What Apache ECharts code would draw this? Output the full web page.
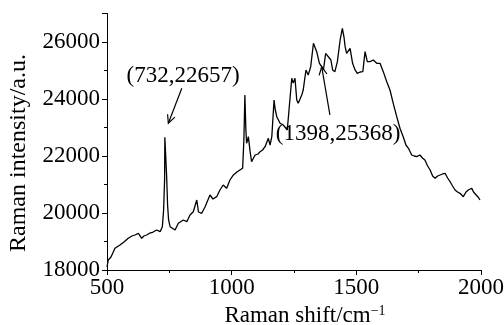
<!DOCTYPE html>
<html>
<head>
<meta charset="utf-8">
<script src="https://cdn.jsdelivr.net/npm/echarts@6/dist/echarts.min.js"></script>
<style>html,body{margin:0;padding:0;background:#fff}#c{width:504px;height:325px}</style>
</head>
<body>
<div id="c"></div>
<script>
// Raman shift (cm^-1)
var shifts = [500,505,516,532,552,568,585,600,612,626,639,648,659,672,685,699,713,722,727,731,732,739,743,747,753,760,773,786,793,806,820,833,846,860,867,880,893,913,925,940,953,966,980,993,1007,1021,1033,1044,1049,1053,1057,1060,1067,1074,1080,1094,1106,1114,1124,1134,1147,1154,1161,1170,1175,1181,1194,1207,1223,1230,1241,1247,1254,1261,1267,1281,1287,1298,1307,1317,1328,1334,1341,1352,1361,1368,1377,1398,1405,1414,1424,1435,1444,1451,1455,1461,1475,1485,1495,1504,1515,1526,1535,1544,1555,1568,1582,1595,1608,1622,1635,1648,1662,1675,1688,1699,1709,1722,1732,1742,1755,1765,1775,1786,1796,1806,1816,1826,1836,1846,1856,1866,1876,1886,1896,1906,1916,1929,1940,1949,1963,1970,1976,1988,1996];
// Raman intensity (a.u.)
var intensities = [18105,18351,18456,18761,18877,18983,19112,19193,19228,19288,19112,19193,19228,19298,19333,19404,19344,19519,20105,21158,22657,21334,20281,19755,19519,19463,19404,19639,19579,19755,19695,19930,20046,20456,20035,19990,20211,20632,20491,20573,20807,20983,20866,21158,21334,21439,21509,21568,22562,24141,22913,22446,22678,22151,21800,22035,22070,22151,22211,22327,22621,22386,22678,23965,23614,23379,23148,23088,22913,23614,24726,24562,24726,23965,23849,24141,24316,25018,24843,25134,25955,25955,25660,25253,25134,25018,25603,25368,25018,24960,25311,26071,26481,26141,25836,25603,25779,25253,25018,24902,24948,24960,25660,25311,25311,25369,25253,25253,24960,24607,24316,23849,23379,22972,22677,22386,22270,22035,22000,21976,22035,21930,21860,21649,21509,21298,21218,21298,21334,21369,21393,21228,21098,20948,20807,20737,20691,20572,20737,20807,20867,20737,20691,20562,20456];
// Axis ticks
var xTicks = [500, 1000, 1500, 2000];
var yTicks = [18000, 20000, 22000, 24000, 26000];
// Annotations: label text, label centre, arrow start, arrow tip
var annoTexts = ['(732,22657)', '(1398,25368)'];
var annoCentres = [[805, 24807], [1427, 22772]];
var arrowStarts = [[800, 24376], [1394, 23440]];
var arrowTips = [[746, 23148], [1361, 25134]];

var font = '"Liberation Serif", "Times New Roman", serif';
var data = shifts.map(function (s, i) { return [s, intensities[i]]; });
var plain = function (v) { return String(v); };

var chart = echarts.init(document.getElementById('c'), null, {renderer: 'canvas'});
chart.setOption({
  animation: false,
  backgroundColor: '#fff',
  grid: {left: 107, right: 23, top: 13.5, bottom: 55, containLabel: false, outerBoundsMode: 'none'},
  xAxis: {
    type: 'value', min: xTicks[0], max: xTicks[xTicks.length - 1], interval: 500,
    name: 'Raman shift/cm{sup|\u22121}', nameLocation: 'middle', nameGap: 30,
    nameTextStyle: {fontFamily: font, fontSize: 23, color: '#000', padding: [0, 0, 0, 22],
      rich: {sup: {fontFamily: font, fontSize: 14, color: '#000', padding: [0, 0, 10, 0]}}},
    axisLine: {lineStyle: {color: '#000', width: 1}},
    axisTick: {inside: false, length: 5, lineStyle: {color: '#000'}},
    minorTick: {show: true, splitNumber: 2, length: 3, lineStyle: {color: '#000'}},
    axisLabel: {fontFamily: font, fontSize: 23, color: '#000', margin: 6, formatter: plain},
    splitLine: {show: false}
  },
  yAxis: {
    type: 'value', min: yTicks[0], max: 27000, interval: 2000,
    axisLine: {show: true, lineStyle: {color: '#000', width: 1}},
    axisTick: {show: true, inside: false, length: 5, lineStyle: {color: '#000'}},
    minorTick: {show: true, splitNumber: 2, length: 3, lineStyle: {color: '#000'}},
    axisLabel: {fontFamily: font, fontSize: 23, color: '#000', margin: 7, showMaxLabel: false, formatter: plain},
    splitLine: {show: false}
  },
  series: [{
    type: 'line', data: data, showSymbol: false, symbol: 'none',
    lineStyle: {color: '#000', width: 1.3},
    markPoint: {
      silent: true, symbol: 'circle', symbolSize: 1,
      itemStyle: {color: 'rgba(0,0,0,0)'},
      label: {show: true, position: 'inside', fontFamily: font, fontSize: 23, color: '#000',
        formatter: function (p) { return p.name; }},
      data: annoTexts.map(function (t, i) { return {name: t, coord: annoCentres[i]}; })
    }
  }]
});

// Y-axis title and the two annotation arrows (shaft + open head),
// placed through the chart's own coordinate conversion
var graphics = [{
  type: 'text', silent: true, x: 19, y: 153, rotation: Math.PI / 2,
  style: {text: 'Raman intensity/a.u.', fontFamily: font, fontSize: 24, fill: '#000',
    align: 'center', verticalAlign: 'middle'}
}];
arrowStarts.forEach(function (s, i) {
  var p0 = chart.convertToPixel({gridIndex: 0}, s);
  var p1 = chart.convertToPixel({gridIndex: 0}, arrowTips[i]);
  var ang = Math.atan2(p0[1] - p1[1], p0[0] - p1[0]);
  var L = 9, spread = 0.45;
  var h1 = [p1[0] + L * Math.cos(ang + spread), p1[1] + L * Math.sin(ang + spread)];
  var h2 = [p1[0] + L * Math.cos(ang - spread), p1[1] + L * Math.sin(ang - spread)];
  graphics.push({type: 'polyline', silent: true, shape: {points: [p0, p1]},
    style: {stroke: '#000', lineWidth: 1.2, fill: null}});
  graphics.push({type: 'polyline', silent: true, shape: {points: [h1, p1, h2]},
    style: {stroke: '#000', lineWidth: 1.2, fill: null}});
});
chart.setOption({graphic: graphics});
</script>
</body>
</html>
